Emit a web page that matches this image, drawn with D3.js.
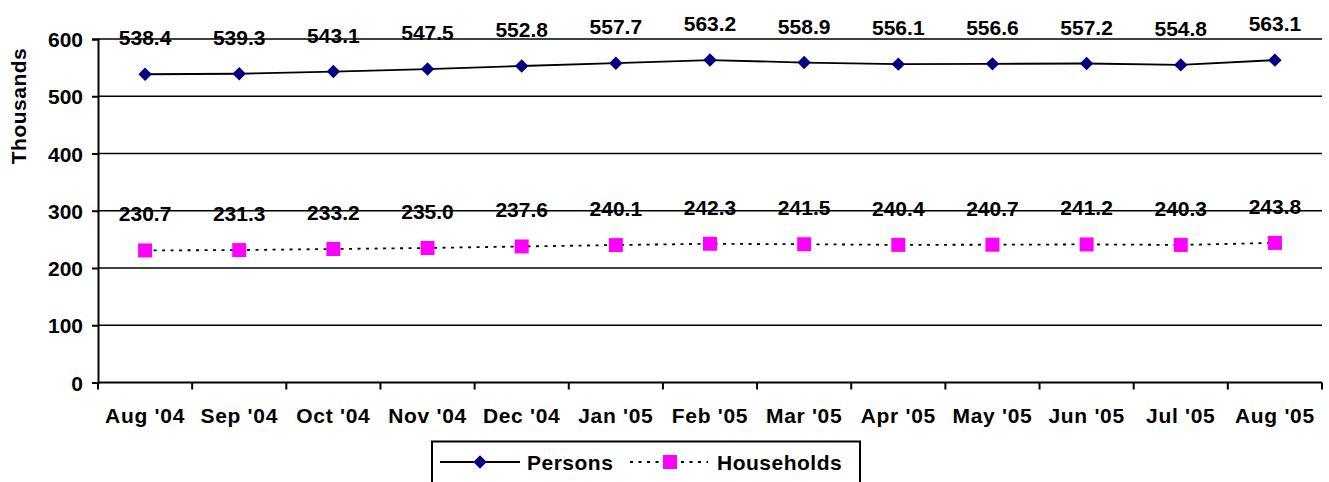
<!DOCTYPE html>
<html>
<head>
<meta charset="utf-8">
<script src="https://cdn.jsdelivr.net/npm/d3@7"></script>
<style>
  html, body { margin: 0; padding: 0; background: #fff; }
  svg { display: block; font-family: Arial, "Liberation Sans", sans-serif; font-weight: bold; }
</style>
</head>
<body>
<svg id="chart" width="1329" height="482"></svg>
<script>
const categories = ["Aug '04","Sep '04","Oct '04","Nov '04","Dec '04","Jan '05","Feb '05","Mar '05","Apr '05","May '05","Jun '05","Jul '05","Aug '05"];
const persons = [538.4, 539.3, 543.1, 547.5, 552.8, 557.7, 563.2, 558.9, 556.1, 556.6, 557.2, 554.8, 563.1];
const households = [230.7, 231.3, 233.2, 235.0, 237.6, 240.1, 242.3, 241.5, 240.4, 240.7, 241.2, 240.3, 243.8];
const yTicks = [0, 100, 200, 300, 400, 500, 600];
const seriesNames = ["Persons", "Households"];

const svg = d3.select("#chart");
const pLeft = 98, pRight = 1322, pTop = 39, pBottom = 382.5;

const x = d3.scaleBand().domain(categories).range([pLeft, pRight]).padding(0);
const y = d3.scaleLinear().domain([0, 600]).range([pBottom, pTop]);

// gridlines
svg.append("g").selectAll("line").data(yTicks.filter(d => d > 0)).join("line")
  .attr("x1", pLeft).attr("x2", pRight)
  .attr("y1", d => y(d)).attr("y2", d => y(d))
  .attr("stroke", "#000").attr("stroke-width", 1.6);

// y axis
const yAxis = svg.append("g").attr("transform", `translate(${pLeft},0)`)
  .call(d3.axisLeft(y).tickValues(yTicks).tickSize(6).tickPadding(9).tickFormat(d3.format("d")));
yAxis.select(".domain").attr("stroke", "#000").attr("stroke-width", 2);
yAxis.selectAll(".tick line").attr("stroke", "#000").attr("stroke-width", 2);
yAxis.selectAll(".tick text").attr("font-size", 21).attr("font-weight", "bold")
  .attr("font-family", "Arial, 'Liberation Sans', sans-serif").attr("fill", "#000").attr("dy", "0.36em");

// x axis
const xAxis = svg.append("g").attr("transform", `translate(0,${pBottom})`)
  .call(d3.axisBottom(x).tickSize(0).tickPadding(0));
xAxis.select(".domain").remove();
xAxis.selectAll(".tick line").remove();
svg.append("line").attr("x1", pLeft).attr("x2", pRight).attr("y1", pBottom).attr("y2", pBottom)
  .attr("stroke", "#000").attr("stroke-width", 2);
const bounds = categories.map(c => x(c)).concat([x(categories[categories.length - 1]) + x.bandwidth()]);
svg.append("g").selectAll("line").data(bounds).join("line")
  .attr("x1", d => d).attr("x2", d => d).attr("y1", pBottom).attr("y2", pBottom + 7)
  .attr("stroke", "#000").attr("stroke-width", 2);
xAxis.selectAll(".tick text").attr("font-size", 21).attr("font-weight", "bold")
  .attr("font-family", "Arial, 'Liberation Sans', sans-serif").attr("fill", "#000")
  .attr("letter-spacing", 0.7).attr("y", 40).attr("dy", 0);

// y axis title
svg.append("text").attr("transform", "translate(26,106) rotate(-90)")
  .attr("text-anchor", "middle").attr("font-size", 21).attr("letter-spacing", 0.5)
  .text("Thousands");

const cx = c => x(c) + x.bandwidth() / 2;

// persons line
svg.append("path").datum(persons)
  .attr("d", d3.line().x((d, i) => cx(categories[i])).y(d => y(d)))
  .attr("fill", "none").attr("stroke", "#000").attr("stroke-width", 1.8);
// households line
svg.append("path").datum(households)
  .attr("d", d3.line().x((d, i) => cx(categories[i])).y(d => y(d)))
  .attr("fill", "none").attr("stroke", "#000").attr("stroke-width", 1.8).attr("stroke-dasharray", "3,5.5");

const diamond = d3.symbol().type(d3.symbolSquare).size(90);
svg.append("g").selectAll("path").data(persons).join("path")
  .attr("d", diamond)
  .attr("transform", (d, i) => `translate(${cx(categories[i])},${y(d)}) rotate(45)`)
  .attr("fill", "#000080");

const sq = 14;
svg.append("g").selectAll("rect").data(households).join("rect")
  .attr("x", (d, i) => cx(categories[i]) - sq / 2).attr("y", d => y(d) - sq / 2)
  .attr("width", sq).attr("height", sq).attr("fill", "#FF00FF");

// data labels
const fmt = d3.format(".1f");
svg.append("g").selectAll("text").data(persons).join("text")
  .attr("x", (d, i) => cx(categories[i])).attr("y", d => y(d) - 29)
  .attr("text-anchor", "middle").attr("font-size", 21).text(d => fmt(d));
svg.append("g").selectAll("text").data(households).join("text")
  .attr("x", (d, i) => cx(categories[i])).attr("y", d => y(d) - 29)
  .attr("text-anchor", "middle").attr("font-size", 21).text(d => fmt(d));

// legend
const lg = svg.append("g");
lg.append("rect").attr("x", 432).attr("y", 441.5).attr("width", 428).attr("height", 50)
  .attr("fill", "#fff").attr("stroke", "#000").attr("stroke-width", 2);
const ly = 462;
lg.append("line").attr("x1", 440).attr("x2", 520).attr("y1", ly).attr("y2", ly)
  .attr("stroke", "#000").attr("stroke-width", 1.8);
lg.append("path").attr("d", diamond).attr("transform", `translate(480,${ly}) rotate(45)`).attr("fill", "#000080");
lg.append("text").attr("x", 527).attr("y", ly + 8).attr("font-size", 21).attr("letter-spacing", 0.5).text(seriesNames[0]);
lg.append("line").attr("x1", 630).attr("x2", 708).attr("y1", ly).attr("y2", ly)
  .attr("stroke", "#000").attr("stroke-width", 1.8).attr("stroke-dasharray", "3,5.5");
lg.append("rect").attr("x", 663).attr("y", ly - 7).attr("width", 14).attr("height", 14).attr("fill", "#FF00FF");
lg.append("text").attr("x", 717).attr("y", ly + 8).attr("font-size", 21).attr("letter-spacing", 0.5).text(seriesNames[1]);
</script>
</body>
</html>
